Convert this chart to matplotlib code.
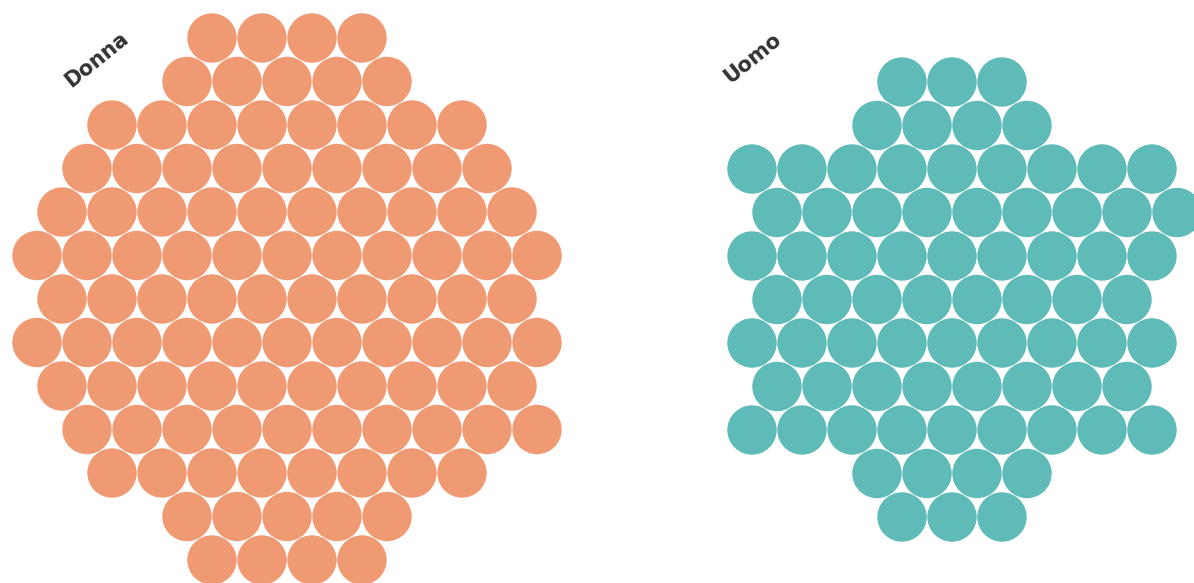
import matplotlib
matplotlib.use("Agg")
import matplotlib.pyplot as plt
from matplotlib.patches import Circle
from matplotlib.collections import PatchCollection

# dati
groups = ["Donna", "Uomo"]
counts = [105, 75]
colors = ["#f09a74", "#5ebbb7"]

# forma della griglia esagonale: cerchi per riga e inizio riga (in mezzi passi)
donna_row_counts = [4, 5, 8, 9, 10, 11, 10, 11, 10, 10, 8, 5, 4]
donna_row_start = [7, 6, 3, 2, 1, 0, 1, 0, 1, 2, 3, 6, 7]
uomo_row_counts = [3, 4, 9, 9, 9, 8, 9, 8, 9, 4, 3]
uomo_row_start = [6, 5, 0, 1, 0, 1, 0, 1, 0, 5, 6]

W, H = 1194, 583
STEP = 50.0
ROW_H = 43.5
R = 24.7


def hex_centers(row_counts, row_start, x0, y_mid):
    n_rows = len(row_counts)
    y0 = y_mid - ROW_H * (n_rows - 1) / 2
    pts = []
    for i, (c, s) in enumerate(zip(row_counts, row_start)):
        y = y0 + i * ROW_H
        for j in range(c):
            pts.append((x0 + s * STEP / 2 + j * STEP, y))
    return pts


fig = plt.figure(figsize=(W / 100, H / 100), dpi=100)
ax = fig.add_axes([0, 0, 1, 1])
ax.set_xlim(0, W)
ax.set_ylim(H, 0)
ax.axis("off")

shapes = [(donna_row_counts, donna_row_start, 37, 299),
          (uomo_row_counts, uomo_row_start, 752, 299.5)]
label_pos = [(97, 60), (753, 58)]

for name, n, col, (rc, rs, x0, ym), (lx, ly) in zip(groups, counts, colors, shapes, label_pos):
    pts = hex_centers(rc, rs, x0, ym)[:n]
    patches = [Circle(p, R) for p in pts]
    ax.add_collection(PatchCollection(patches, facecolor=col, edgecolor="none"))
    ax.text(lx, ly, name, rotation=39, ha="center", va="center",
            fontsize=15, fontweight="bold", color="#333333", family="DejaVu Sans")

fig.savefig("out.png", dpi=100)
